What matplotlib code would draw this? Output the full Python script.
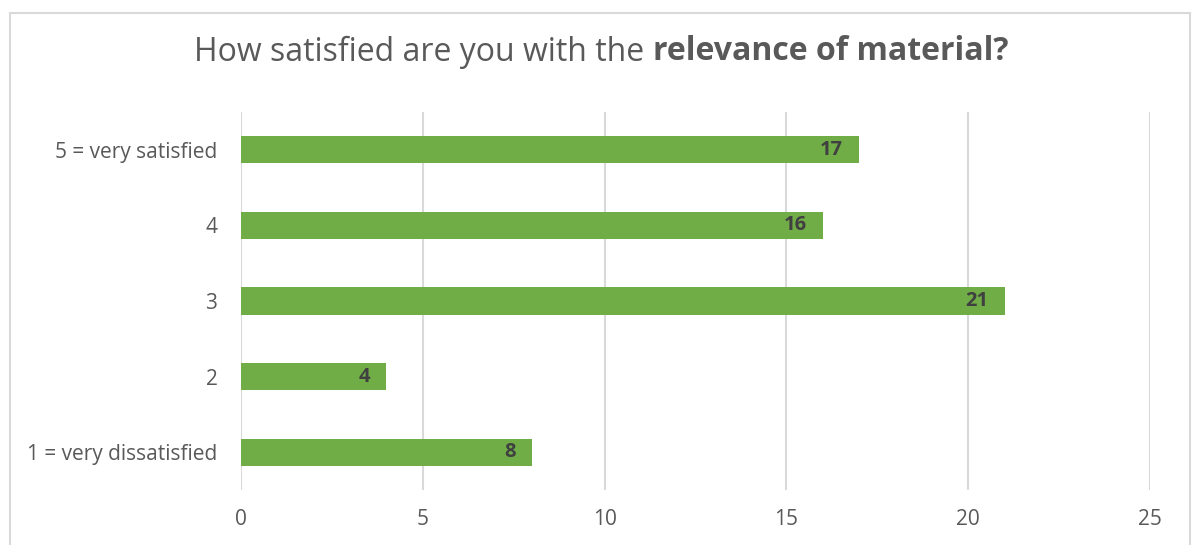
import matplotlib.pyplot as plt
from matplotlib.patches import Rectangle

categories = ["1 = very dissatisfied", "2", "3", "4", "5 = very satisfied"]
counts = [8, 4, 21, 16, 17]
x_ticks = [0, 5, 10, 15, 20, 25]

plt.rcParams['font.family'] = ['Open Sans', 'DejaVu Sans']
text_col = "#595959"
bar_col = "#70AD47"
grid_col = "#D9D9D9"

fig = plt.figure(figsize=(11.95, 5.45), dpi=100)
ax = fig.add_axes([241 / 1195, 55 / 545, 909 / 1195, 378 / 545])

# chart border
fig.patches.append(Rectangle((10 / 1195, -0.1), 1180 / 1195, (532 / 545) + 0.1,
                             transform=fig.transFigure, fill=False,
                             edgecolor=grid_col, linewidth=1.5))

ypos = list(range(len(categories)))
bars = ax.barh(ypos, counts, height=0.36, color=bar_col, zorder=3)

for rect, v in zip(bars, counts):
    ax.annotate(str(v), (rect.get_width(), rect.get_y() + rect.get_height() / 2),
                xytext=(-11.5, 0), textcoords="offset points",
                ha="right", va="center", fontsize=14.5, fontweight="bold",
                color="#404040", zorder=4)

ax.set_xlim(0, 25)
ax.set_ylim(-0.5, 4.5)
ax.set_xticks(x_ticks)
ax.set_yticks(ypos)
ax.set_yticklabels(categories)
ax.tick_params(axis="both", length=0, labelsize=15, labelcolor=text_col)
ax.tick_params(axis="y", pad=17)
ax.tick_params(axis="x", pad=14)
ax.grid(axis="x", color=grid_col, linewidth=1.5, zorder=0)
for s in ax.spines.values():
    s.set_visible(False)

# title with a bold part
t1 = fig.text(0.5, 1 - 52 / 545, "How satisfied are you with the ", fontsize=23,
              color=text_col, ha="left", va="center")
t2 = ax.annotate("relevance of material?", xy=(1, 0.5), xycoords=t1,
                 ha="left", va="center", fontsize=23, fontweight="bold", color=text_col)
fig.canvas.draw()
r = fig.canvas.get_renderer()
w = (t1.get_window_extent(r).width + t2.get_window_extent(r).width) / fig.bbox.width
t1.set_x(0.5 - w / 2 + 4 / 1195)

fig.savefig("out.png", dpi=100)
